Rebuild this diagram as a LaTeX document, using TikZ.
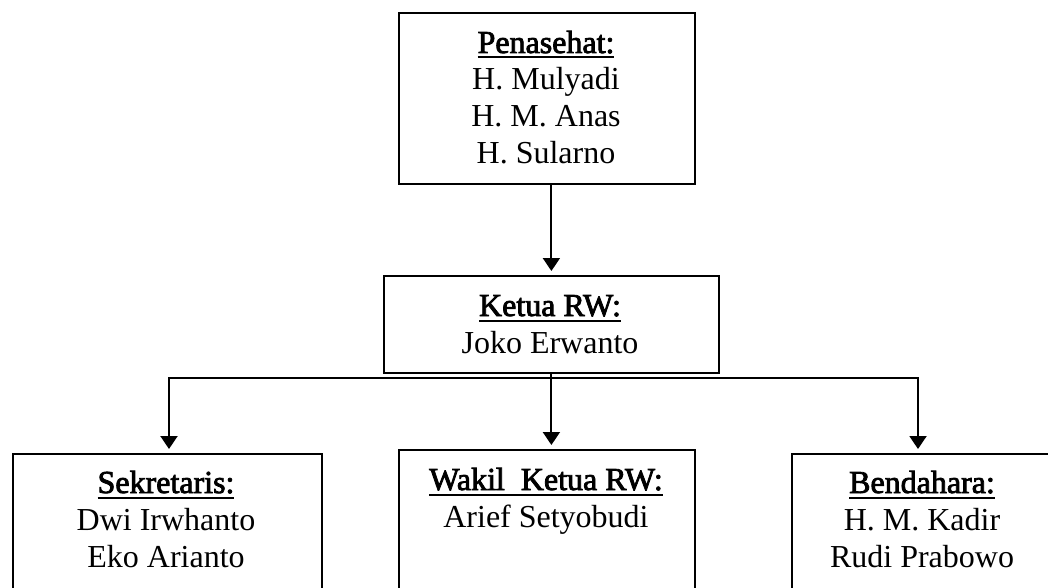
\documentclass[tikz,border=0pt]{standalone}
\usepackage{fontspec}
\setmainfont{Liberation Serif}
\newfontfamily\headfont{Liberation Serif}[FakeBold=2.5]
\usetikzlibrary{arrows.meta}
\newcommand\hd[1]{\setbox0\hbox{\headfont #1}\rlap{\vrule height -3.5pt depth 5.5pt width \wd0}\box0}
\begin{document}
\begin{tikzpicture}[x=1pt,y=-1pt,
  box/.style={draw,line width=1.8pt,rectangle,inner sep=0pt,anchor=north west},
  txt/.style={inner sep=0pt,anchor=base,font=\fontsize{32}{37}\selectfont},
  conn/.style={line width=2pt,line join=miter},
  tip/.style={-{Triangle[length=13pt,width=17pt]},shorten >=4pt},
  arr/.style={conn,tip}]
\useasboundingbox (0,0) rectangle (1048,588);
\clip (0,0) rectangle (1048,588);
% boxes
\node[box,minimum width=296pt,minimum height=171pt] (pen) at (398,12) {};
\node[box,minimum width=335pt,minimum height=97pt] (ket) at (383,275) {};
\node[box,minimum width=309pt,minimum height=200pt] (sek) at (12,453) {};
\node[box,minimum width=296pt,minimum height=200pt] (wak) at (398,449) {};
\node[box,minimum width=270pt,minimum height=200pt] (ben) at (791,453) {};
% texts
\node[txt] (penT) at (546,53) {\begin{tabular}[t]{@{}c@{}}\hd{Penasehat:}\\ H. Mulyadi\\ H. M. Anas\\ H. Sularno\end{tabular}};
\node[txt] (ketT) at (550,316) {\begin{tabular}[t]{@{}c@{}}\hd{Ketua RW:}\\ Joko Erwanto\end{tabular}};
\node[txt] (sekT) at (166,493) {\begin{tabular}[t]{@{}c@{}}\hd{Sekretaris:}\\ Dwi Irwhanto\\ Eko Arianto\end{tabular}};
\node[txt] (wakT) at (546,490) {\begin{tabular}[t]{@{}c@{}}\hd{Wakil\ \ Ketua RW:}\\ Arief Setyobudi\end{tabular}};
\node[txt] (benT) at (922,493) {\begin{tabular}[t]{@{}c@{}}\hd{Bendahara:}\\ H. M. Kadir\\ Rudi Prabowo\end{tabular}};
% connectors
\coordinate (busL) at (169,378);
\coordinate (busR) at (918,378);
\draw[arr] (ket.north |- pen.south) -- (ket.north);
\draw[arr] (ket.south) -- (ket.south |- wak.north);
\draw[conn,{Triangle[length=13pt,width=17pt]}-{Triangle[length=13pt,width=17pt]},shorten >=4pt,shorten <=4pt]
  (busL |- sek.north) -- (busL) -- (busR) -- (busR |- ben.north);
\end{tikzpicture}
\end{document}
